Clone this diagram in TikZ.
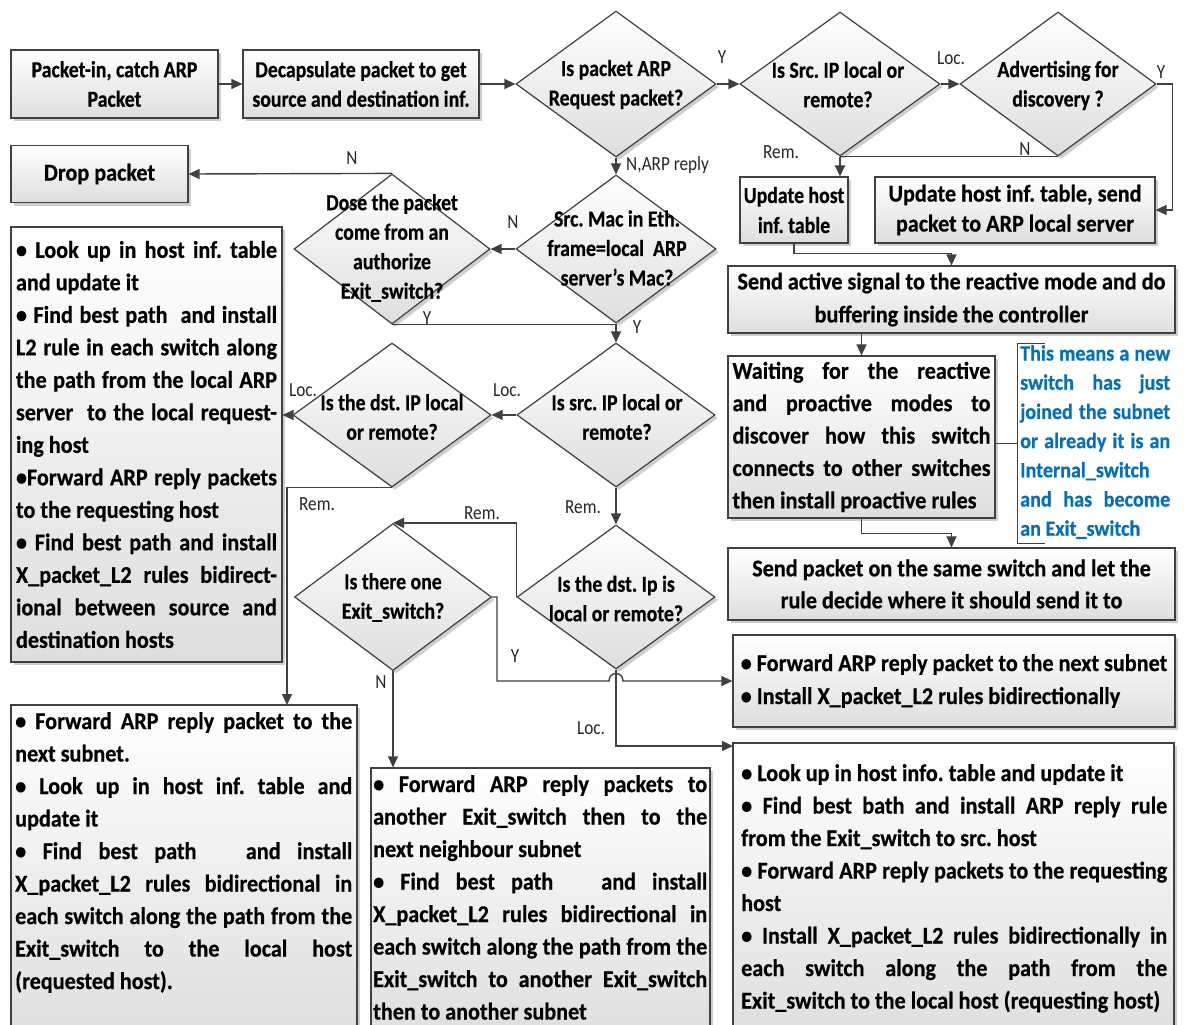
\documentclass[tikz,border=0pt]{standalone}
\usepackage{fontspec}
\setmainfont{Carlito}[FakeStretch=0.86, BoldFeatures={FakeBold=0.5}]
\newfontfamily\widefont{Carlito}[FakeStretch=0.923, BoldFeatures={FakeBold=0.5}]
\usetikzlibrary{shapes.geometric,shadows,arrows.meta}
\definecolor{ln}{HTML}{404040}
\definecolor{note}{HTML}{0070C0}
\newlength\jw
% a justified line of fixed width
\newcommand\jl[1]{\hbox to \jw{#1}}

\tikzset{
  jw/.code={\setlength\jw{#1}},
  conn/.style={draw=ln, line width=1.4pt},
  flow/.style={conn, -{Triangle[length=11pt,width=10pt]}},
  box/.style={draw=ln, line width=1.2pt, top color=white, bottom color=black!13,
    drop shadow={shadow xshift=3pt, shadow yshift=-3pt, fill=black!55, opacity=0.35},
    inner sep=0pt},
  dec/.style={box, diamond},
  btxt/.style={font=\bfseries\fontsize{23}{29.5}\selectfont, align=center},
  wtxt/.style={align=center},
  jbox/.style={font=\widefont\bfseries\fontsize{24}{32.5}\selectfont, align=left},
  jtxt/.style={font=\widefont\bfseries\fontsize{24}{32.5}\selectfont, align=left, inner sep=0pt, anchor=north west},
  dtxt/.style={btxt, inner sep=0pt},
  lab/.style={font=\fontsize{20}{20}\selectfont, text=black!85, inner sep=0pt},
}

\begin{document}
\frenchspacing
\begin{tikzpicture}[x=1pt,y=-1pt]
\useasboundingbox (0,0) rectangle (1184,1025);
\fill[white] (0,0) rectangle (1184,1025);

% ---------- process boxes ----------
\node[box, btxt, minimum width=207pt, minimum height=68pt] (pin) at (114.5,84) {Packet-in, catch ARP\\Packet};
\node[box, btxt, minimum width=236pt, minimum height=68pt] (dec) at (361,84) {Decapsulate packet to get\\source and destination inf.};
\node[box, wtxt, font=\widefont\bfseries\fontsize{24}{30}\selectfont, minimum width=177pt, minimum height=57pt] (drop) at (99.5,174) {Drop packet};
\node[box, btxt, font=\bfseries\fontsize{23}{30}\selectfont, minimum width=108pt, minimum height=66pt] (uh1) at (794,210) {Update host\\inf. table};
\node[box, wtxt, font=\widefont\bfseries\fontsize{24}{30}\selectfont, minimum width=280pt, minimum height=66pt] (uh2) at (1015,210) {Update host inf. table, send\\packet to ARP local server};
\node[box, wtxt, font=\widefont\bfseries\fontsize{24}{33}\selectfont, minimum width=447pt, minimum height=67pt] (sa) at (951.5,299.5) {Send active signal to the reactive mode and do\\buffering inside the controller};
\node[box, jbox, jw=258pt, font=\widefont\bfseries\fontsize{24}{32.4}\selectfont, minimum width=267pt, minimum height=162pt] (w) at (861.5,437) {%
\jl{Waiting for the reactive}\\
\jl{and proactive modes to}\\
\jl{discover how this switch}\\
\jl{connects to other switches}\\
then install proactive rules};
\node[box, wtxt, font=\widefont\bfseries\fontsize{24}{32}\selectfont, minimum width=447pt, minimum height=72pt] (sp) at (951.5,584) {Send packet on the same switch and let the\\rule decide where it should send it to};

\node[box, jbox, jw=261pt, minimum width=271pt, minimum height=435pt] (l1) at (146.5,444.5) {%
\jl{• Look up in host inf. table}\\
and update it\\
\jl{• Find best path\ \ and install}\\
\jl{L2 rule in each switch along}\\
\jl{the path from the local ARP}\\
\jl{server\ \ to the local request-}\\
ing host\\
\jl{•Forward ARP reply packets}\\
to the requesting host\\
\jl{• Find best path and install}\\
\jl{X\_packet\_L2 rules bidirect-}\\
\jl{ional between source and}\\
destination hosts};

\node[box, jbox, font=\widefont\bfseries\fontsize{24}{33}\selectfont, minimum width=442pt, minimum height=92pt] (r1) at (954,681) {%
• Forward ARP reply packet to the next subnet\\
• Install X\_packet\_L2 rules bidirectionally};

\node[box, minimum width=346pt, minimum height=335pt] (l2) at (184,872.5) {};
\node[jtxt, jw=337pt] (l2t) at (15,712) {%
\jl{• Forward ARP reply packet to the}\\
next subnet.\\
\jl{• Look up in host inf. table and}\\
update it\\
\jl{• Find best path\ \ \ and install}\\
\jl{X\_packet\_L2 rules bidirectional in}\\
\jl{each switch along the path from the}\\
\jl{Exit\_switch to the local host}\\
(requested host).};

\node[box, minimum width=339pt, minimum height=272pt] (m) at (540.5,904) {};
\node[jtxt, jw=334pt] (mt) at (373,775) {%
\jl{• Forward ARP reply packets to}\\
\jl{another Exit\_switch then to the}\\
next neighbour subnet\\
\jl{• Find best path\ \ \ and install}\\
\jl{X\_packet\_L2 rules bidirectional in}\\
\jl{each switch along the path from the}\\
\jl{Exit\_switch to another Exit\_switch}\\
then to another subnet};

\node[box, minimum width=441pt, minimum height=297pt] (r2) at (953.5,891.5) {};
\node[jtxt, jw=426pt] (r2t) at (741,764) {%
• Look up in host info. table and update it\\
\jl{• Find best bath and install ARP reply rule}\\
from the Exit\_switch to src. host\\
\jl{• Forward ARP reply packets to the requesting}\\
host\\
\jl{• Install X\_packet\_L2 rules bidirectionally in}\\
\jl{each switch along the path from the}\\
Exit\_switch to the local host (requesting host)};

% ---------- decisions ----------
\node[dec, minimum width=200pt, minimum height=146pt] (d1) at (616,84) {};
\node[dtxt] (d1t) at (616,84.5) {Is packet ARP\\Request packet?};
\node[dec, minimum width=200pt, minimum height=144pt] (d2) at (840,84) {};
\node[dtxt] (d2t) at (838,84.5) {Is Src. IP local or\\remote?};
\node[dec, minimum width=196pt, minimum height=144pt] (d3) at (1058,84) {};
\node[dtxt] (d3t) at (1058,85.5) {Advertising for\\discovery ?};
\node[dec, minimum width=200pt, minimum height=148pt] (d4) at (616,249) {};
\node[dtxt] (d4t) at (617,248) {Src. Mac in Eth.\\frame=local\ \ ARP\\server's Mac?};
\node[dec, minimum width=196pt, minimum height=150pt] (d5) at (392,249) {};
\node[dtxt] (d5t) at (392,248) {Dose the packet\\come from an\\authorize\\Exit\_switch?};
\node[dec, minimum width=198pt, minimum height=144pt] (d6) at (616,415) {};
\node[dtxt] (d6t) at (617,417) {Is src. IP local or\\remote?};
\node[dec, minimum width=198pt, minimum height=144pt] (d7) at (392,415) {};
\node[dtxt] (d7t) at (392,417) {Is the dst. IP local\\or remote?};
\node[dec, minimum width=198pt, minimum height=144pt] (d8) at (616,597) {};
\node[dtxt] (d8t) at (616,598.5) {Is the dst. Ip is\\local or remote?};
\node[dec, minimum width=197pt, minimum height=147pt] (d9) at (393,597) {};
\node[dtxt] (d9t) at (393,597.5) {Is there one\\Exit\_switch?};

% ---------- side note ----------
\node[jtxt, jw=150pt, font=\widefont\bfseries\fontsize{21.8}{29.2}\selectfont, text=note] (note) at (1020,345) {%
\jl{This means a new}\\
\jl{switch has just}\\
\jl{joined the subnet}\\
\jl{or already it is an}\\
Internal\_switch\\
\jl{and has become}\\
an Exit\_switch};
\coordinate (brk) at (1017,443);
\draw[ln, line width=1pt] (1045,343) -- (1017,343) -- (1017,543) -- (1045,543);
\draw[ln, line width=1pt] (w.east |- brk) -- (brk);

% ---------- connectors ----------
\draw[flow] (pin) -- (dec);
\draw[flow] (dec) -- (d1);
\draw[flow] (d1) -- (d2);
\draw[flow] (d2) -- (d3);
\draw[flow] (d3.east) -- ++(16,0) |- (uh2.east);
\draw[conn] (d3.south) -- (d2.south);
\draw[flow] (d2.south) -- (d2.south |- uh1.north);
\draw[flow] (uh1.south) -- ++(0,10) -| (sa.north);
\draw[flow] (sa.south -| w.north) -- (w.north);
\draw[flow] (w.south) -- ++(0,15) -| (sp.north);

\draw[flow] (d1.south) -- (d4.north);
\draw[flow] (d4.west) -- (d5.east);
\draw[flow] (d5.north) -- (drop.east);
\draw[conn] (d5.south) -- (d5.south -| d4.south);
\draw[flow] (d4.south) -- (d6.north);
\draw[flow] (d6.west) -- (d7.east);
\draw[flow] (d7.west) -- (d7.west -| l1.east);
\coordinate (l2in) at (287,705);
\draw[flow] (d7.south) -| (l2in);
\draw[flow] (d6.south) -- (d8.north);
\draw[flow] (d8.west) |- (d9.north);
\draw[flow] (d9.south) -- (d9.south |- m.north);
\coordinate (r2in) at (733,746);
\draw[flow] (d8.south) |- (r2in);
\draw[flow] (d9.east) -- (497,597) -- (497,681) -- (609,681)
  .. controls (609,671) and (623,671) .. (623,681) -- (r1.west);

% ---------- branch labels ----------
\node[lab] (y1) at (722,57) {Y};
\node[lab] (loc1) at (951,58) {Loc.};
\node[lab] (y2) at (1161,72) {Y};
\node[lab] (rem1) at (781,152) {Rem.};
\node[lab] (n1) at (1025,149) {N};
\node[lab, anchor=west] (nreply) at (626,165) {N,ARP reply};
\node[lab] (n2) at (513,222) {N};
\node[lab] (n3) at (352,158) {N};
\node[lab] (y3) at (427,318) {Y};
\node[lab] (y4) at (637,327) {Y};
\node[lab] (loc2) at (507,390) {Loc.};
\node[lab] (loc3) at (303,390) {Loc.};
\node[lab] (rem2) at (317,504) {Rem.};
\node[lab] (rem3) at (583,507) {Rem.};
\node[lab] (rem4) at (482,513) {Rem.};
\node[lab] (y5) at (515,656) {Y};
\node[lab] (n4) at (381,682) {N};
\node[lab] (loc4) at (591,728) {Loc.};
\end{tikzpicture}
\end{document}
